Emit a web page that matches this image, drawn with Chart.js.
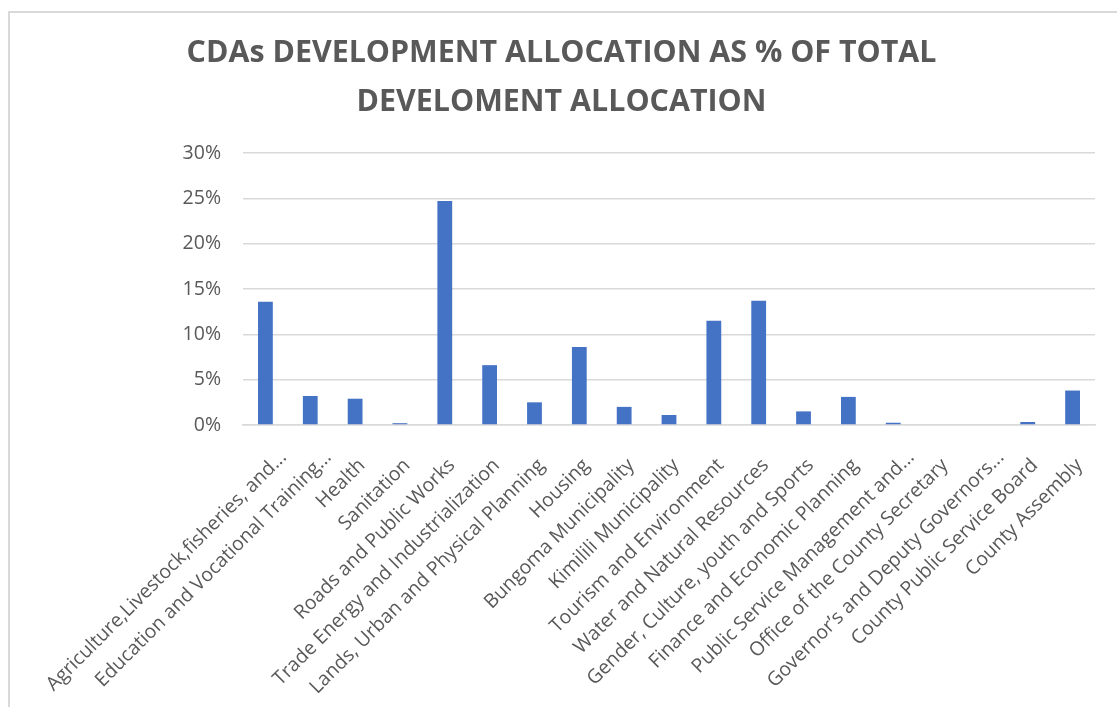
<!DOCTYPE html>
<html>
<head>
<meta charset="utf-8">
<script src="https://cdn.jsdelivr.net/npm/chart.js@4.4.1/dist/chart.umd.min.js"></script>
<style>
    body { margin: 0; background: #ffffff; }
    #wrap { position: relative; width: 1117px; height: 707px; }
</style>
</head>
<body>
<div id="wrap"><canvas id="chart"></canvas></div>
<script>
// Category labels as shown on the axis (Excel truncates the long ones)
const categories = [
    'Agriculture,Livestock,fisheries, and...',
    'Education and Vocational Training...',
    'Health',
    'Sanitation',
    'Roads and Public Works',
    'Trade Energy and Industrialization',
    'Lands, Urban and Physical Planning',
    'Housing',
    'Bungoma Municipality',
    'Kimilili Municipality',
    'Tourism and Environment',
    'Water and Natural Resources',
    'Gender, Culture, youth and Sports',
    'Finance and Economic Planning',
    'Public Service Management and...',
    'Office of the County Secretary',
    'Governor\u2019s and Deputy Governors...',
    'County Public Service Board',
    'County Assembly'
];

// Development allocation as % of total
const allocationPct = [13.6, 3.2, 2.9, 0.2, 24.7, 6.6, 2.5, 8.6, 2.0, 1.1, 11.5, 13.7, 1.5, 3.1, 0.25, 0, 0, 0.33, 3.8];

const yTicks = [0, 5, 10, 15, 20, 25, 30];

const titleLines = ['CDAs DEVELOPMENT ALLOCATION AS % OF TOTAL', 'DEVELOMENT ALLOCATION'];

const textGray = '#595959';
const gridGray = '#D9D9D9';

// light frame on the left and top, like the cropped Excel chart border
const framePlugin = {
    id: 'frame',
    beforeDraw(chart) {
        const ctx = chart.ctx;
        ctx.save();
        ctx.fillStyle = '#ffffff';
        ctx.fillRect(0, 0, chart.width, chart.height);
        ctx.strokeStyle = gridGray;
        ctx.lineWidth = 2;
        ctx.beginPath();
        ctx.moveTo(9, chart.height);
        ctx.lineTo(9, 12);
        ctx.lineTo(chart.width, 12);
        ctx.stroke();
        ctx.restore();

        // Excel sits the truncated ("...") labels a bit further along their slant
        chart.scales.x.getLabelItems().forEach((item, i) => {
            if (item._shifted || !categories[i].endsWith('...')) return;
            const t = item.options.translation;
            item.options.translation = [t[0] + 11, t[1] - 8];
            item._shifted = true;
        });
    }
};

const ctx = document.getElementById('chart').getContext('2d');
new Chart(ctx, {
    type: 'bar',
    data: {
        labels: categories,
        datasets: [{
            label: 'Allocation',
            data: allocationPct,
            backgroundColor: '#4472C4',
            borderWidth: 0,
            categoryPercentage: 1,
            barPercentage: 0.33
        }]
    },
    options: {
        responsive: true,
        maintainAspectRatio: false,
        animation: false,
        layout: { padding: { left: 28, right: 22, top: 0, bottom: 0 } },
        plugins: {
            legend: { display: false },
            tooltip: { enabled: false },
            title: {
                display: true,
                text: titleLines,
                color: textGray,
                font: { family: 'Open Sans', size: 30.4, weight: 'bold', lineHeight: 49 / 30.4 },
                padding: { top: 29, bottom: 26 }
            }
        },
        scales: {
            x: {
                grid: { display: false },
                border: { display: true, color: gridGray, width: 1.5 },
                ticks: {
                    autoSkip: false,
                    minRotation: 45,
                    maxRotation: 45,
                    color: textGray,
                    font: { family: 'Open Sans', size: 19.5 },
                    padding: 21,
                    labelOffset: 7
                },
                afterFit(scale) { scale.height = 282; }
            },
            y: {
                min: 0,
                max: 30,
                afterBuildTicks(scale) { scale.ticks = yTicks.map(v => ({ value: v })); },
                grid: { color: gridGray, lineWidth: 1.5, drawTicks: false },
                border: { display: false },
                ticks: {
                    color: textGray,
                    font: { family: 'Open Sans', size: 19.5 },
                    padding: 22,
                    callback: v => v + '%'
                },
                afterFit(scale) { scale.width = 215; }
            }
        }
    },
    plugins: [framePlugin]
});
</script>
</body>
</html>
